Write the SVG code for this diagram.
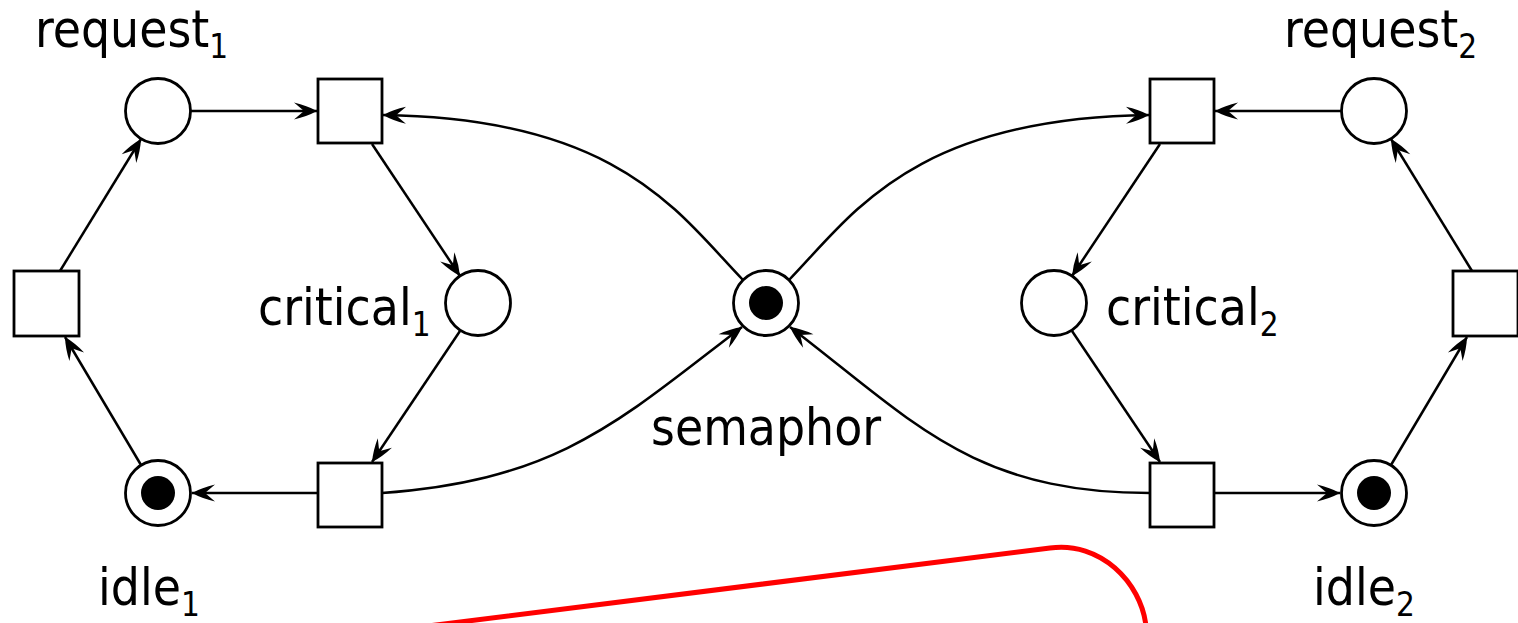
<svg xmlns="http://www.w3.org/2000/svg" width="1518" height="623" viewBox="0 0 1518 623">
<defs>
<marker id="arr" markerUnits="userSpaceOnUse" markerWidth="30" markerHeight="20" viewBox="-26 -10 30 20" refX="0" refY="0" orient="auto" overflow="visible">
<path d="M-23,-8.5 Q-10,-5.5 0,0 Q-10,5.5 -23,8.5 L-13,0 Z" fill="#000"/>
</marker>
</defs>
<style>
.pl{fill:#fff;stroke:#000;stroke-width:2.8}
.tr{fill:#fff;stroke:#000;stroke-width:2.8}
.tok{fill:#000}
.e{fill:none;stroke:#000;stroke-width:2.5;marker-end:url(#arr)}
.lb{font-family:"DejaVu Sans Condensed","DejaVu Sans",sans-serif;font-size:51px;fill:#000}
.sb{font-size:33px;fill:#000}
</style>
<g id="connectors">
<path class="e" d="M191,111 L317,111"/>
<path class="e" d="M372,144 L460,276"/>
<path class="e" d="M460,331 L372,462"/>
<path class="e" d="M318,493 L192,493"/>
<path class="e" d="M141,465 L65,337"/>
<path class="e" d="M60,271 L141,139"/>
<path class="e" d="M743,280 C680,215 620,118 383,115"/>
<path class="e" d="M382,493 C560,480 620,420 742,327"/>
<path class="e" d="M1341,111 L1215,111"/>
<path class="e" d="M1160,144 L1072,276"/>
<path class="e" d="M1072,331 L1160,462"/>
<path class="e" d="M1214,493 L1340,493"/>
<path class="e" d="M1391,465 L1467,337"/>
<path class="e" d="M1472,271 L1391,139"/>
<path class="e" d="M789,280 C852,215 912,118 1149,115"/>
<path class="e" d="M1150,493 C972,493 912,420 790,327"/>
</g>
<g id="request1"><circle class="pl" cx="158" cy="111" r="32.5"/><text class="lb" x="35" y="47">request<tspan class="sb" dy="11">1</tspan></text></g>
<g id="critical1"><circle class="pl" cx="478" cy="303" r="32.5"/><text class="lb" x="258" y="325">critical<tspan class="sb" dy="11">1</tspan></text></g>
<g id="idle1"><circle class="pl" cx="158" cy="493" r="32.5"/><circle class="tok" cx="158" cy="493" r="17"/><text class="lb" x="98" y="605">idle<tspan class="sb" dy="11">1</tspan></text></g>
<g id="semaphor"><circle class="pl" cx="766" cy="303" r="32.5"/><circle class="tok" cx="766" cy="303" r="17"/><text class="lb" x="651" y="445">semaphor</text></g>
<g id="request2"><circle class="pl" cx="1374" cy="111" r="32.5"/><text class="lb" x="1284" y="47">request<tspan class="sb" dy="11">2</tspan></text></g>
<g id="critical2"><circle class="pl" cx="1054" cy="303" r="32.5"/><text class="lb" x="1106" y="325">critical<tspan class="sb" dy="11">2</tspan></text></g>
<g id="idle2"><circle class="pl" cx="1374" cy="493" r="32.5"/><circle class="tok" cx="1374" cy="493" r="17"/><text class="lb" x="1313" y="605">idle<tspan class="sb" dy="11">2</tspan></text></g>
<g id="t_req1"><rect class="tr" x="318" y="79" width="64" height="64"/></g>
<g id="t_left"><rect class="tr" x="14" y="271" width="65" height="65"/></g>
<g id="t_rel1"><rect class="tr" x="318" y="463" width="64" height="64"/></g>
<g id="t_req2"><rect class="tr" x="1150" y="79" width="64" height="64"/></g>
<g id="t_right"><rect class="tr" x="1453" y="271" width="65" height="65"/></g>
<g id="t_rel2"><rect class="tr" x="1150" y="463" width="64" height="64"/></g>
<path d="M428,626 L1050,548 C1100,541 1141,582 1146,626" fill="none" stroke="#ff0000" stroke-width="5"/>
</svg>
